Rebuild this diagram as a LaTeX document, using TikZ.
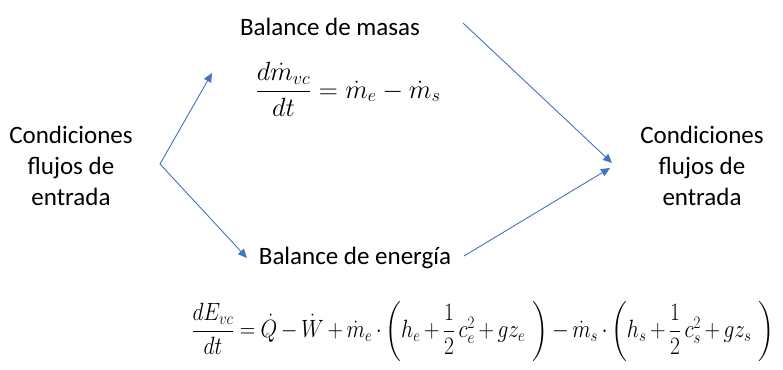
\documentclass[tikz,border=0pt]{standalone}
\usepackage[no-math]{fontspec}
\setmainfont{Carlito}
\usepackage{amsmath}
\usepackage{graphicx}
\usetikzlibrary{arrows.meta}
\definecolor{arrowblue}{HTML}{4472C4}
\tikzset{
  lbl/.style={font=\fontsize{25}{31}\selectfont, align=center, inner sep=0pt},
  eqn/.style={font=\fontsize{24}{30}\selectfont, inner sep=0pt},
  conn/.style={draw=arrowblue, line width=0.9pt, -{Triangle[length=9pt,width=8pt]}}
}
\begin{document}
\begin{tikzpicture}[x=1pt,y=-1pt]
\useasboundingbox (0,0) rectangle (783,369);
\node[lbl] (left) at (71,166) {Condiciones\\flujos de\\entrada};
\node[lbl] (right) at (702,166) {Condiciones\\flujos de\\entrada};
\node[lbl] (masas) at (330,27) {Balance de masas};
\node[lbl] (energia) at (355,258) {Balance de energía};
\node[eqn] (meq) at (348,89) {\resizebox{185pt}{!}{$\dfrac{d\dot m_{vc}}{dt} = \dot m_e - \dot m_s$}};
\node[eqn] (eeq) at (483,331) {\resizebox*{583pt}{60pt}{\medmuskip=3mu plus 1mu minus 1mu\thickmuskip=4.5mu$\dfrac{dE_{vc}}{dt} = \dot Q - \dot W + \dot m_e\cdot\biggl(h_e+\dfrac{1}{2}\,c_e^2+gz_e\,\,\biggr) - \dot m_s\cdot\biggl(h_s+\dfrac{1}{2}\,c_s^2+gz_s\,\,\biggr)$}};
\coordinate (fork) at (160,164);
\coordinate (upend) at (212,73);
\coordinate (downend) at (247,258);
\coordinate (mstart) at (463,23);
\coordinate (estart) at (464,256);
\coordinate (rin1) at (612,163);
\coordinate (rin2) at (610,168);
\draw[conn] (fork) -- (upend);
\draw[conn] (fork) -- (downend);
\draw[conn] (mstart) -- (rin1);
\draw[conn] (estart) -- (rin2);
\end{tikzpicture}
\end{document}
